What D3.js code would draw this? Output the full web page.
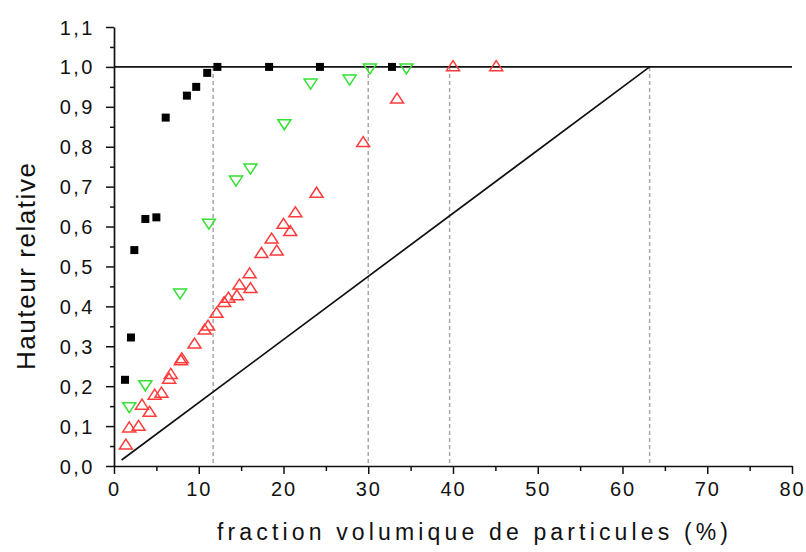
<!DOCTYPE html>
<html>
<head>
<meta charset="utf-8">
<script src="https://cdn.jsdelivr.net/npm/d3@7"></script>
<style>
  html, body { margin: 0; padding: 0; background: #fff; }
  svg { display: block; }
  text { font-family: Arial, "Liberation Sans", sans-serif; fill: #111; }
</style>
</head>
<body>
<svg id="chart" width="806" height="552"></svg>
<script>
// ---------- data ----------
const xTickValues = [0, 10, 20, 30, 40, 50, 60, 70, 80];
const xMinorTicks = [5, 15, 25, 35, 45, 55, 65, 75];
const yTickValues = [0, 0.1, 0.2, 0.3, 0.4, 0.5, 0.6, 0.7, 0.8, 0.9, 1.0, 1.1];
const yTickLabels = ["0,0","0,1","0,2","0,3","0,4","0,5","0,6","0,7","0,8","0,9","1,0","1,1"];
const yMinorTicks = [0.05, 0.15, 0.25, 0.35, 0.45, 0.55, 0.65, 0.75, 0.85, 0.95, 1.05];

const blackX = [1.3, 2.0, 2.4, 3.7, 5.0, 6.1, 8.6, 9.7, 11.0, 12.2, 18.3, 24.3, 32.8];
const blackY = [0.216, 0.322, 0.541, 0.619, 0.623, 0.873, 0.928, 0.950, 0.985, 1.0, 1.0, 1.0, 1.0];

const greenX = [1.8, 3.7, 7.8, 11.2, 14.4, 16.1, 20.1, 23.2, 27.8, 30.2, 34.5];
const greenY = [0.146, 0.201, 0.431, 0.606, 0.714, 0.744, 0.855, 0.957, 0.967, 0.995, 0.995];

const redX = [1.4, 1.8, 2.9, 3.3, 4.2, 4.8, 5.6, 6.5, 6.7, 7.9, 8.0, 9.5, 10.7, 11.1, 12.1, 13.0, 13.5, 14.5, 14.8, 16.1, 16.0, 17.4, 19.2, 18.6, 20.0, 20.8, 21.4, 23.9, 29.4, 33.4, 40.0, 45.1];
const redY = [0.055, 0.098, 0.102, 0.155, 0.137, 0.180, 0.185, 0.220, 0.232, 0.266, 0.271, 0.308, 0.343, 0.353, 0.385, 0.412, 0.423, 0.429, 0.456, 0.447, 0.484, 0.535, 0.541, 0.571, 0.608, 0.590, 0.637, 0.686, 0.813, 0.922, 1.003, 1.003];

const diagX = [0.9, 63.2];
const diagY = [0.015, 1.0];
const plateauX = [0, 80];
const plateauY = [1.0, 1.0];
const dashedX = [11.7, 30.0, 39.6, 63.2];

const xTitle = "fraction volumique de particules (%)";
const yTitle = "Hauteur relative";

// ---------- layout ----------
const svg = d3.select("#chart");
const x = d3.scaleLinear().domain([0, 80]).range([114, 792]);
const y = d3.scaleLinear().domain([0, 1.1]).range([466, 27]);

// dashed verticals
svg.append("g").selectAll("line").data(dashedX).join("line")
  .attr("x1", d => x(d)).attr("x2", d => x(d))
  .attr("y1", y(1.0)).attr("y2", y(0))
  .attr("stroke", "#a8a8a8").attr("stroke-width", 1.5)
  .attr("stroke-dasharray", "4,3");

const line = d3.line().x(d => x(d[0])).y(d => y(d[1]));
svg.append("path").datum(d3.zip(plateauX, plateauY))
  .attr("d", line).attr("fill", "none").attr("stroke", "#111").attr("stroke-width", 1.7);
svg.append("path").datum(d3.zip(diagX, diagY))
  .attr("d", line).attr("fill", "none").attr("stroke", "#111").attr("stroke-width", 1.7);

// markers
function triPath(cx, cy, w, h, up) {
  const p = d3.path();
  if (up) {
    p.moveTo(cx - w/2, cy + h/2); p.lineTo(cx + w/2, cy + h/2); p.lineTo(cx, cy - h/2);
  } else {
    p.moveTo(cx - w/2, cy - h/2); p.lineTo(cx + w/2, cy - h/2); p.lineTo(cx, cy + h/2);
  }
  p.closePath();
  return p.toString();
}

svg.append("g").selectAll("path").data(d3.zip(redX, redY)).join("path")
  .attr("d", d => triPath(x(d[0]), y(d[1]), 13, 10, true))
  .attr("fill", "none").attr("stroke", "#ff3b3b").attr("stroke-width", 1.5);

svg.append("g").selectAll("path").data(d3.zip(greenX, greenY)).join("path")
  .attr("d", d => triPath(x(d[0]), y(d[1]), 13, 10, false))
  .attr("fill", "none").attr("stroke", "#33e033").attr("stroke-width", 1.5);

svg.append("g").selectAll("rect").data(d3.zip(blackX, blackY)).join("rect")
  .attr("x", d => x(d[0]) - 4).attr("y", d => y(d[1]) - 4)
  .attr("width", 8).attr("height", 8).attr("fill", "#000");

// axes
const gx = svg.append("g").attr("transform", `translate(0,${y(0)})`)
  .call(d3.axisBottom(x).tickValues(xTickValues).tickSize(8).tickSizeOuter(0).tickFormat(d3.format("d")));
svg.append("g").attr("transform", `translate(0,${y(0)})`)
  .call(d3.axisBottom(x).tickValues(xMinorTicks).tickSize(5).tickSizeOuter(0).tickFormat(""))
  .select(".domain").remove();
const gy = svg.append("g").attr("transform", `translate(${x(0)},0)`)
  .call(d3.axisLeft(y).tickValues(yTickValues).tickSize(8).tickSizeOuter(0)
    .tickFormat((d, i) => yTickLabels[i]));
svg.append("g").attr("transform", `translate(${x(0)},0)`)
  .call(d3.axisLeft(y).tickValues(yMinorTicks).tickSize(4).tickSizeOuter(0).tickFormat(""))
  .select(".domain").remove();

svg.selectAll(".domain").attr("stroke", "#111").attr("stroke-width", 1.7);
svg.selectAll(".tick line").attr("stroke", "#111").attr("stroke-width", 1.5);

gx.selectAll(".tick text")
  .attr("y", 16).attr("dy", "0.71em").attr("x", 0)
  .style("font-size", "20px").style("letter-spacing", "2px")
  .style("font-family", "Arial, 'Liberation Sans', sans-serif").attr("fill", "#222");
gy.selectAll(".tick text")
  .attr("x", -19).attr("dy", "0.35em")
  .style("font-size", "20px").style("letter-spacing", "2.5px")
  .style("font-family", "Arial, 'Liberation Sans', sans-serif").attr("fill", "#222");

// titles
svg.append("text")
  .attr("x", 217).attr("y", 540)
  .attr("textLength", 511).attr("lengthAdjust", "spacing")
  .style("font-size", "23px").attr("fill", "#222")
  .text(xTitle);

svg.append("text")
  .attr("transform", "translate(35,370) rotate(-90)")
  .attr("x", 0).attr("y", 0)
  .attr("textLength", 207).attr("lengthAdjust", "spacing")
  .style("font-size", "26px").attr("fill", "#222")
  .text(yTitle);
</script>
</body>
</html>
